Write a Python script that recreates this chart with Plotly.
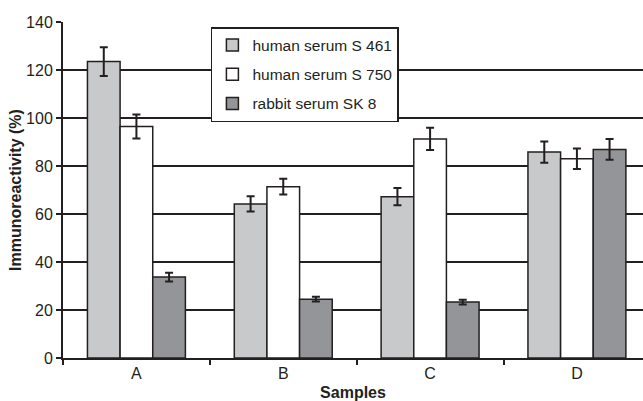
import plotly.graph_objects as go

categories = ["A", "B", "C", "D"]
series_names = ["human serum S 461", "human serum S 750", "rabbit serum SK 8"]
s461 = [123.5, 64.2, 67.2, 85.8]
s461_err = [6.0, 3.2, 3.6, 4.4]
s750 = [96.5, 71.4, 91.3, 83.0]
s750_err = [5.0, 3.3, 4.6, 4.3]
sk8 = [33.7, 24.5, 23.3, 86.9]
sk8_err = [1.8, 1.0, 1.0, 4.3]
colors = ["#c8c9cb", "#ffffff", "#939598"]
ink = "#231f20"

fig = go.Figure()
for i, (name, vals, errs) in enumerate(zip(series_names, [s461, s750, sk8], [s461_err, s750_err, sk8_err])):
    fig.add_trace(go.Bar(
        x=categories, y=vals, name=name, legendgroup=f"g{i}",
        marker=dict(color=colors[i], line=dict(color=ink, width=1.5)),
        error_y=dict(type="data", array=errs, visible=True, color=ink, thickness=2, width=4),
    ))

fig.update_layout(
    width=643, height=401,
    margin=dict(l=63, r=0, t=22, b=43, autoexpand=False),
    paper_bgcolor="white", plot_bgcolor="white",
    barmode="group", bargap=0.333, bargroupgap=0,
    font=dict(family="Liberation Sans, Arial", size=16, color=ink),
    showlegend=True,
    legend=dict(
        x=0.255, y=0.985, xanchor="left", yanchor="top",
        bgcolor="white", bordercolor=ink, borderwidth=1.5,
        font=dict(size=15.5, color=ink), tracegroupgap=6,
    ),
    xaxis=dict(
        range=[-0.5, 3.45], showgrid=False, showline=True, linecolor=ink, linewidth=2,
        ticks="outside", tickson="boundaries", ticklen=5, tickwidth=2, tickcolor=ink,
        automargin=False,
        title=dict(text="<b>Samples</b>", font=dict(size=16), standoff=14),
    ),
    yaxis=dict(
        range=[0, 140], dtick=20, showgrid=True, gridcolor=ink, gridwidth=2,
        showline=True, linecolor=ink, linewidth=2, zeroline=False,
        ticks="outside", ticklen=5, tickwidth=2, tickcolor=ink,
        automargin=False,
        title=dict(text="<b>Immunoreactivity (%)</b>", font=dict(size=16), standoff=0),
    ),
)

fig.write_html("out.html")
